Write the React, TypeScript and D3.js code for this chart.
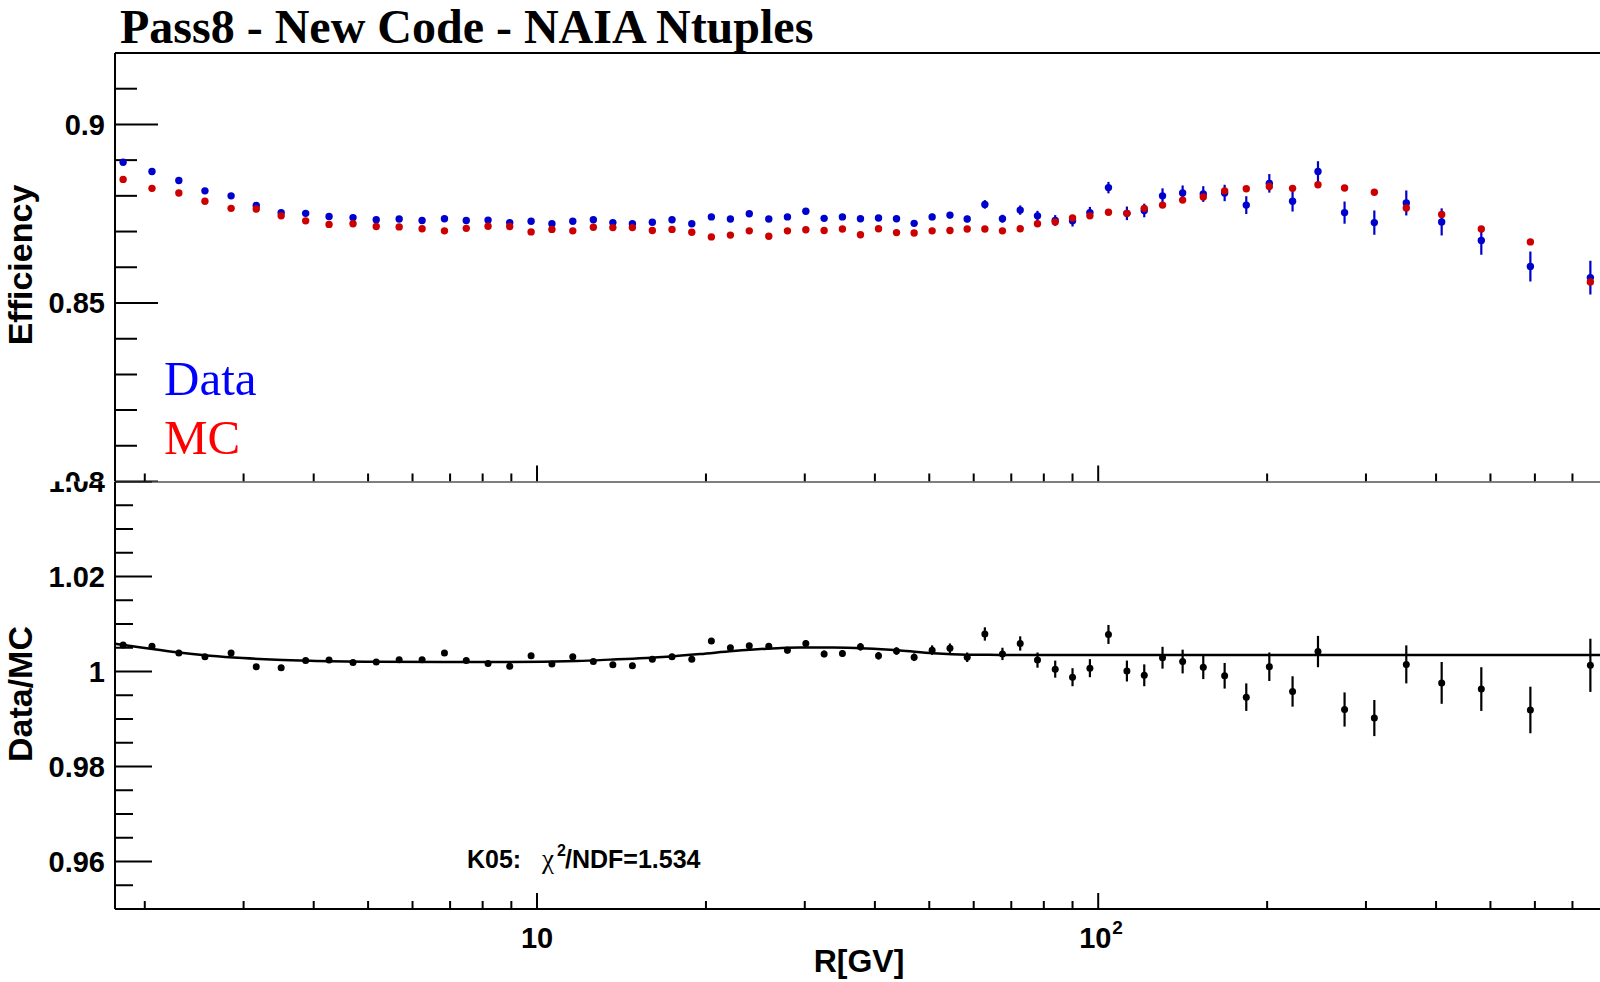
import React from 'react';
import * as d3 from 'd3';

// ---------------- data ----------------
const rigidity = [
  1.83, 2.06, 2.30, 2.56, 2.85, 3.16, 3.50, 3.87, 4.26, 4.70,
  5.17, 5.68, 6.24, 6.84, 7.48, 8.18, 8.94, 9.76, 10.63, 11.58,
  12.60, 13.65, 14.79, 16.05, 17.40, 18.87, 20.45, 22.11, 23.89, 25.88,
  27.94, 30.13, 32.48, 35.01, 37.70, 40.60, 43.71, 46.99, 50.59, 54.43,
  58.42, 62.81, 67.51, 72.61, 77.95, 83.83, 90.00, 96.65, 104.3, 112.5,
  120.8, 130.2, 141.4, 153.9, 168.0, 183.6, 201.8, 222.0, 246.4, 274.8,
  310.5, 354.0, 409.3, 481.6, 589.0, 753.4,
];

const effData = [
  0.8894, 0.8868, 0.8843, 0.8814, 0.8800, 0.8773, 0.8753, 0.8751, 0.8742, 0.8739,
  0.8733, 0.8735, 0.8731, 0.8736, 0.8731, 0.8732, 0.8725, 0.8729, 0.8722, 0.8729,
  0.8733, 0.8725, 0.8722, 0.8726, 0.8733, 0.8722, 0.8741, 0.8735, 0.8750, 0.8735,
  0.8741, 0.8757, 0.8737, 0.8741, 0.8736, 0.8738, 0.8736, 0.8723, 0.8741, 0.8746,
  0.8735, 0.8776, 0.8736, 0.8760, 0.8744, 0.8731, 0.8730, 0.8753, 0.8823, 0.8751,
  0.8759, 0.8800, 0.8808, 0.8805, 0.8808, 0.8774, 0.8835, 0.8785, 0.8868, 0.8753,
  0.8725, 0.8780, 0.8727, 0.8675, 0.8602, 0.8571,
];

const effDataErr = [
  0.0003, 0.0003, 0.0003, 0.0003, 0.0003, 0.0003, 0.0003, 0.0003, 0.0003, 0.0003,
  0.0003, 0.0003, 0.0003, 0.0003, 0.0003, 0.0003, 0.0003, 0.0003, 0.0003, 0.0003,
  0.0004, 0.0004, 0.0004, 0.0004, 0.0004, 0.0004, 0.0005, 0.0005, 0.0005, 0.0005,
  0.0006, 0.0006, 0.0006, 0.0006, 0.0007, 0.0007, 0.0007, 0.0007, 0.0009, 0.0009,
  0.0009, 0.0012, 0.0011, 0.0013, 0.0014, 0.0015, 0.0016, 0.0016, 0.0016, 0.0019,
  0.0019, 0.0021, 0.0021, 0.0022, 0.0023, 0.0025, 0.0026, 0.0029, 0.0029, 0.0031,
  0.0034, 0.0035, 0.0038, 0.0040, 0.0042, 0.0047,
];

const effMC = [
  0.8846, 0.8821, 0.8808, 0.8785, 0.8765, 0.8763, 0.8744, 0.8730, 0.8720, 0.8722,
  0.8714, 0.8713, 0.8708, 0.8702, 0.8709, 0.8715, 0.8714, 0.8699, 0.8706, 0.8702,
  0.8712, 0.8711, 0.8711, 0.8703, 0.8706, 0.8698, 0.8685, 0.8690, 0.8702, 0.8687,
  0.8702, 0.8705, 0.8703, 0.8707, 0.8691, 0.8708, 0.8697, 0.8696, 0.8702, 0.8703,
  0.8707, 0.8707, 0.8702, 0.8708, 0.8722, 0.8727, 0.8738, 0.8744, 0.8754, 0.8751,
  0.8765, 0.8774, 0.8788, 0.8797, 0.8814, 0.8820, 0.8826, 0.8821, 0.8831, 0.8822,
  0.8810, 0.8766, 0.8748, 0.8707, 0.8671, 0.8559,
];

const ratio = [
  1.0056, 1.0053, 1.0039, 1.0031, 1.0039, 1.0010, 1.0008, 1.0023, 1.0024, 1.0019,
  1.0020, 1.0025, 1.0025, 1.0039, 1.0023, 1.0017, 1.0011, 1.0033, 1.0016, 1.0031,
  1.0021, 1.0014, 1.0012, 1.0026, 1.0031, 1.0026, 1.0064, 1.0050, 1.0054, 1.0053,
  1.0045, 1.0059, 1.0037, 1.0038, 1.0052, 1.0033, 1.0043, 1.0030, 1.0045, 1.0049,
  1.0030, 1.0079, 1.0037, 1.0059, 1.0024, 1.0005, 0.9988, 1.0007, 1.0078, 1.0001,
  0.9992, 1.0029, 1.0021, 1.0009, 0.9991, 0.9946, 1.0010, 0.9958, 1.0042, 0.9920,
  0.9902, 1.0015, 0.9976, 0.9963, 0.9919, 1.0013,
];

const ratioErr = [
  0.0003, 0.0003, 0.0003, 0.0003, 0.0003, 0.0003, 0.0003, 0.0003, 0.0003, 0.0003,
  0.0004, 0.0004, 0.0004, 0.0004, 0.0004, 0.0004, 0.0004, 0.0004, 0.0004, 0.0004,
  0.0005, 0.0005, 0.0005, 0.0005, 0.0005, 0.0005, 0.0006, 0.0006, 0.0006, 0.0006,
  0.0007, 0.0007, 0.0007, 0.0007, 0.0008, 0.0008, 0.0008, 0.0008, 0.0010, 0.0010,
  0.0010, 0.0014, 0.0013, 0.0015, 0.0016, 0.0018, 0.0019, 0.0019, 0.0020, 0.0022,
  0.0023, 0.0023, 0.0025, 0.0025, 0.0027, 0.0029, 0.0030, 0.0032, 0.0033, 0.0036,
  0.0038, 0.0040, 0.0044, 0.0046, 0.0049, 0.0056,
];

// fitted function (K05)
const fitR = [
  1.77, 1.985, 2.279, 2.614, 2.990, 3.436, 3.941, 5.180, 6.799, 8.951,
  11.77, 13.49, 17.03, 19.53, 22.36, 25.67, 29.44, 33.71, 38.70, 44.37,
  50.80, 58.34, 66.90, 100, 200, 800,
];
const fitVal = [
  1.00586, 1.00502, 1.00404, 1.00333, 1.00284, 1.00249, 1.00228, 1.00207, 1.00200, 1.00200,
  1.00221, 1.00250, 1.00312, 1.00368, 1.00432, 1.00481, 1.00505, 1.00505, 1.00483, 1.00440,
  1.00385, 1.00355, 1.00350, 1.00350, 1.00350, 1.00350,
];

const upperMajorTicks = [0.80, 0.85, 0.90];
const upperMajorLabels = ['0.8', '0.85', '0.9'];
const lowerMajorTicks = [0.96, 0.98, 1.0, 1.02, 1.04];
const lowerMajorLabels = ['0.96', '0.98', '1', '1.02', '1.04'];

const titleText = 'Pass8 - New Code - NAIA Ntuples';
const legendLabels = ['Data', 'MC'];

// ---------------- styles ----------------
const SANS = "'Liberation Sans', Arial, Helvetica, sans-serif";
const SERIF = "'Liberation Serif', 'Times New Roman', Times, serif";
const BLUE = '#0000cc';
const RED = '#cc0000';

export default function App() {
  const W = 1600;
  const H = 982;
  const left = 115;
  const right = 1605;
  const upTop = 53;
  const split = 481.5;
  const lowBottom = 909;

  const x = d3.scaleLog().domain([1.77, 800]).range([left, right]);
  const yU = d3.scaleLinear().domain([0.8, 0.92]).range([split, upTop]);
  const yL = d3.scaleLinear().domain([0.95, 1.04]).range([lowBottom, split]);

  const xTicks = x.ticks();
  const isDecade = (t: number) => Math.abs(Math.log10(t) - Math.round(Math.log10(t))) < 1e-9;

  const upperMinor = d3.range(81, 93).map((v) => v / 100).filter((v) => !upperMajorTicks.some((m) => Math.abs(m - v) < 1e-9));
  const lowerMinor = d3.range(190, 209).map((v) => v / 200).filter((v) => !lowerMajorTicks.some((m) => Math.abs(m - v) < 1e-9));

  const fitLine = d3
    .line<number>()
    .x((_, i) => x(fitR[i]))
    .y((d) => yL(d))
    .curve(d3.curveMonotoneX);

  const tickLabelSize = 29;
  const sw = 2;

  return (
    <svg
      width={W}
      height={H}
      viewBox={`0 0 ${W} ${H}`}
      style={{ position: 'absolute', left: 0, top: 0, background: '#fff' }}
    >
      <defs>
        <clipPath id="clipUpper">
          <rect x={0} y={0} width={W} height={split} />
        </clipPath>
        <clipPath id="clipLower">
          <rect x={0} y={split} width={W} height={H - split} />
        </clipPath>
      </defs>
      <rect x={0} y={0} width={W} height={H} fill="#fff" />

      {/* title */}
      <text x={120} y={43} fontFamily={SERIF} fontWeight="bold" fontSize={48} fill="#000">
        {titleText}
      </text>

      {/* ---------- UPPER PANEL ---------- */}
      <g clipPath="url(#clipUpper)">
        {upperMajorTicks.map((t) => (
          <line key={'um' + t} x1={left} x2={left + 43} y1={yU(t)} y2={yU(t)} stroke="#000" strokeWidth={sw} />
        ))}
        {upperMinor.map((t) => (
          <line key={'un' + t} x1={left} x2={left + 22} y1={yU(t)} y2={yU(t)} stroke="#000" strokeWidth={sw} />
        ))}
        {upperMajorTicks.map((t, i) => (
          <text
            key={'ul' + t}
            x={105}
            y={yU(t)}
            dy="0.36em"
            textAnchor="end"
            fontFamily={SANS}
            fontWeight="bold"
            fontSize={tickLabelSize}
          >
            {upperMajorLabels[i]}
          </text>
        ))}
        {xTicks.map((t) => (
          <line
            key={'ux' + t}
            x1={x(t)}
            x2={x(t)}
            y1={split}
            y2={split - (isDecade(t) ? 16 : 8)}
            stroke="#000"
            strokeWidth={sw}
          />
        ))}

        {/* Data points with errors */}
        {rigidity.map((r, i) => (
          <line
            key={'de' + i}
            x1={x(r)}
            x2={x(r)}
            y1={yU(effData[i] - effDataErr[i])}
            y2={yU(effData[i] + effDataErr[i])}
            stroke={BLUE}
            strokeWidth={2.2}
          />
        ))}
        {rigidity.map((r, i) => (
          <circle key={'d' + i} cx={x(r)} cy={yU(effData[i])} r={3.7} fill={BLUE} />
        ))}
        {/* MC points (drawn on top) */}
        {rigidity.map((r, i) => (
          <circle key={'mc' + i} cx={x(r)} cy={yU(effMC[i])} r={3.7} fill={RED} />
        ))}

        {/* legend */}
        <text x={164} y={395} fontFamily={SERIF} fontSize={49} fill="#0000ff">
          {legendLabels[0]}
        </text>
        <text x={164} y={454} fontFamily={SERIF} fontSize={49} fill="#ff0000">
          {legendLabels[1]}
        </text>

        {/* frame */}
        <line x1={left} x2={W} y1={upTop} y2={upTop} stroke="#000" strokeWidth={sw} />
        <line x1={left} x2={left} y1={upTop} y2={split} stroke="#000" strokeWidth={sw} />
      </g>

      {/* y title upper */}
      <text
        transform={`translate(32, 265) rotate(-90)`}
        textAnchor="middle"
        fontFamily={SANS}
        fontWeight="bold"
        fontSize={34}
      >
        Efficiency
      </text>

      {/* ---------- LOWER PANEL ---------- */}
      <g clipPath="url(#clipLower)">
        {lowerMajorTicks.map((t) => (
          <line key={'lm' + t} x1={left} x2={left + 37} y1={yL(t)} y2={yL(t)} stroke="#000" strokeWidth={sw} />
        ))}
        {lowerMinor.map((t) => (
          <line key={'ln' + t} x1={left} x2={left + 18} y1={yL(t)} y2={yL(t)} stroke="#000" strokeWidth={sw} />
        ))}
        {lowerMajorTicks.map((t, i) => (
          <text
            key={'ll' + t}
            x={105}
            y={yL(t)}
            dy="0.36em"
            textAnchor="end"
            fontFamily={SANS}
            fontWeight="bold"
            fontSize={tickLabelSize}
          >
            {lowerMajorLabels[i]}
          </text>
        ))}
        {xTicks.map((t) => (
          <line
            key={'lx' + t}
            x1={x(t)}
            x2={x(t)}
            y1={lowBottom}
            y2={lowBottom - (isDecade(t) ? 16 : 8)}
            stroke="#000"
            strokeWidth={sw}
          />
        ))}

        {/* fit */}
        <path d={fitLine(fitVal) || ''} fill="none" stroke="#000" strokeWidth={2.5} />

        {/* ratio points */}
        {rigidity.map((r, i) => (
          <line
            key={'re' + i}
            x1={x(r)}
            x2={x(r)}
            y1={yL(ratio[i] - ratioErr[i])}
            y2={yL(ratio[i] + ratioErr[i])}
            stroke="#000"
            strokeWidth={2.2}
          />
        ))}
        {rigidity.map((r, i) => (
          <circle key={'rp' + i} cx={x(r)} cy={yL(ratio[i])} r={3.5} fill="#000" />
        ))}

        {/* frame */}
        <line x1={left} x2={W} y1={split} y2={split} stroke="#000" strokeWidth={sw} />
        <line x1={left} x2={left} y1={split} y2={lowBottom} stroke="#000" strokeWidth={sw} />
        <line x1={left} x2={W} y1={lowBottom} y2={lowBottom} stroke="#000" strokeWidth={sw} />
      </g>

      {/* x labels */}
      <text x={x(10)} y={948} textAnchor="middle" fontFamily={SANS} fontWeight="bold" fontSize={tickLabelSize}>
        10
      </text>
      <g transform={`translate(${x(100)}, 948)`}>
        <text x={-19} y={0} textAnchor="start" fontFamily={SANS} fontWeight="bold" fontSize={tickLabelSize}>
          10
        </text>
        <text x={14} y={-14} textAnchor="start" fontFamily={SANS} fontWeight="bold" fontSize={19}>
          2
        </text>
      </g>

      {/* x title */}
      <text x={859} y={972} textAnchor="middle" fontFamily={SANS} fontWeight="bold" fontSize={32}>
        R[GV]
      </text>

      {/* y title lower */}
      <text
        transform={`translate(32, 694) rotate(-90)`}
        textAnchor="middle"
        fontFamily={SANS}
        fontWeight="bold"
        fontSize={34}
      >
        Data/MC
      </text>

      {/* chi2 annotation */}
      <text x={467} y={868} fontFamily={SANS} fontWeight="bold" fontSize={25}>
        K05:
      </text>
      <text x={542} y={868} fontFamily={SERIF} fontSize={27}>
        χ
      </text>
      <text x={557} y={856} fontFamily={SANS} fontWeight="bold" fontSize={16}>
        2
      </text>
      <text x={565} y={868} fontFamily={SANS} fontWeight="bold" fontSize={25}>
        /NDF=1.534
      </text>
    </svg>
  );
}
